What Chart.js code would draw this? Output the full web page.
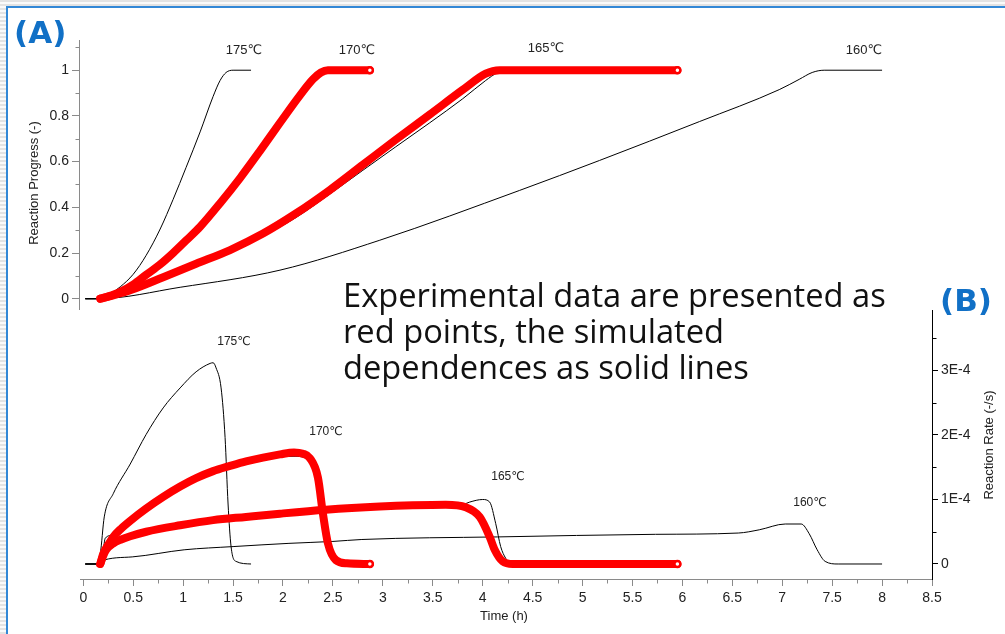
<!DOCTYPE html>
<html><head><meta charset="utf-8">
<script src="https://cdn.jsdelivr.net/npm/chart.js@4.4.1/dist/chart.umd.min.js"></script>
<style>
html,body{margin:0;padding:0;width:1005px;height:634px;overflow:hidden;}
body{background:repeating-linear-gradient(to bottom,#e3e3e3 0px,#e3e3e3 2px,#fafafa 2px,#fafafa 4px);position:relative;}
#frame{position:absolute;left:6px;top:6px;width:1010px;height:640px;background:#fff;border-left:2px solid #3388d6;border-top:2px solid #3388d6;}
#c{position:absolute;left:0;top:0;}
</style></head><body><div id="frame"></div><canvas id="c" width="1005" height="634"></canvas>
<script>
// ---------- Panel A: reaction progress (-) vs time (h) ----------
const tSim175A = [0.02, 0.12, 0.17, 0.27, 0.37, 0.50, 0.63, 0.77, 0.90, 1.03, 1.17, 1.30, 1.37, 1.43, 1.50, 1.68];
const pSim175A = [0, 0, 0.005, 0.022, 0.052, 0.107, 0.19, 0.305, 0.435, 0.575, 0.73, 0.885, 0.955, 0.99, 1, 1];

const tSim170A = [0.02, 0.15, 0.25, 0.37, 0.63, 0.90, 1.17, 1.57, 1.97, 2.30, 2.43, 2.87];
const pSim170A = [0, 0, 0.012, 0.03, 0.105, 0.20, 0.315, 0.528, 0.77, 0.96, 1, 1];
const tExp170A = [0.17, 0.25, 0.37, 0.50, 0.63, 0.77, 0.90, 1.03, 1.17, 1.37, 1.57, 1.77, 1.97, 2.17, 2.30, 2.38, 2.45, 2.60, 2.87];
const pExp170A = [0, 0.01, 0.03, 0.062, 0.105, 0.15, 0.20, 0.255, 0.315, 0.418, 0.528, 0.647, 0.77, 0.89, 0.96, 0.99, 1, 1, 1];

const tSim165A = [0.02, 0.15, 0.30, 0.47, 0.80, 1.13, 1.47, 1.80, 2.13, 2.47, 2.80, 3.13, 3.47, 3.80, 4.03, 4.15, 4.22, 5.95];
const pSim165A = [0, 0, 0.018, 0.038, 0.094, 0.150, 0.205, 0.274, 0.355, 0.458, 0.562, 0.665, 0.77, 0.875, 0.955, 0.99, 1, 1];
const tExp165A = [0.17, 0.30, 0.47, 0.80, 1.13, 1.47, 1.80, 2.13, 2.47, 2.80, 3.13, 3.47, 3.80, 4.03, 4.17, 4.50, 5.95];
const pExp165A = [0, 0.015, 0.037, 0.094, 0.153, 0.213, 0.285, 0.373, 0.476, 0.586, 0.696, 0.806, 0.914, 0.985, 1, 1, 1];

const tSim160A = [0.02, 0.15, 0.97, 1.97, 2.97, 4.37, 5.17, 6.17, 6.97, 7.17, 7.30, 7.42, 8.0];
const pSim160A = [0, 0, 0.05, 0.125, 0.256, 0.474, 0.605, 0.775, 0.915, 0.96, 0.99, 1, 1];

// ---------- Panel B: reaction rate (x1E-4 /s) vs time (h) ----------
const tSim175B = [0.02, 0.12, 0.17, 0.21, 0.30, 0.47, 0.63, 0.80, 0.97, 1.13, 1.27, 1.30, 1.33, 1.38, 1.42, 1.45, 1.48, 1.53, 1.68];
const rSim175B = [0, 0, 0.16, 0.73, 1.09, 1.55, 2.01, 2.42, 2.73, 2.98, 3.11, 3.12, 3.04, 2.73, 1.96, 0.93, 0.27, 0.04, 0];

const tSim170B = [0.02, 0.15, 0.19, 0.22, 0.30, 0.47, 0.80, 1.30, 1.63, 1.97, 2.11, 2.27, 2.35, 2.40, 2.45, 2.53, 2.64, 2.87];
const rSim170B = [0, 0, 0.10, 0.40, 0.45, 0.66, 1.03, 1.43, 1.57, 1.66, 1.67, 1.60, 1.32, 0.78, 0.32, 0.06, 0.01, 0];
const tExp170B = [0.17, 0.20, 0.25, 0.30, 0.38, 0.47, 0.63, 0.80, 0.97, 1.13, 1.30, 1.47, 1.63, 1.80, 1.97, 2.11, 2.20, 2.27, 2.35, 2.40, 2.45, 2.53, 2.64, 2.87];
const rExp170B = [0, 0.16, 0.30, 0.42, 0.55, 0.67, 0.86, 1.04, 1.20, 1.33, 1.44, 1.52, 1.59, 1.65, 1.70, 1.73, 1.71, 1.64, 1.34, 0.78, 0.32, 0.06, 0.01, 0];

const tSim165B = [0.02, 0.15, 0.19, 0.23, 0.30, 0.47, 0.63, 0.97, 1.30, 1.63, 1.97, 2.43, 2.97, 3.30, 3.63, 3.80, 3.87, 4.00, 4.07, 4.13, 4.18, 4.23, 4.28, 5.95];
const rSim165B = [0, 0, 0.10, 0.25, 0.30, 0.40, 0.48, 0.58, 0.66, 0.71, 0.76, 0.82, 0.87, 0.89, 0.90, 0.92, 0.96, 1.00, 0.96, 0.63, 0.27, 0.09, 0, 0];
const tExp165B = [0.17, 0.20, 0.23, 0.30, 0.38, 0.47, 0.63, 0.97, 1.30, 1.63, 1.97, 2.43, 2.97, 3.30, 3.63, 3.83, 3.97, 4.07, 4.12, 4.20, 4.30, 5.95];
const rExp165B = [0, 0.13, 0.22, 0.32, 0.38, 0.43, 0.50, 0.60, 0.68, 0.73, 0.78, 0.84, 0.89, 0.91, 0.92, 0.88, 0.73, 0.42, 0.22, 0.04, 0, 0];

const tSim160B = [0.02, 0.15, 0.17, 0.49, 1.01, 1.50, 2.06, 2.50, 2.79, 4.15, 5.73, 6.56, 6.77, 7.03, 7.19, 7.27, 7.35, 7.43, 7.56, 8.0];
const rSim160B = [0, 0, 0.04, 0.11, 0.22, 0.27, 0.32, 0.35, 0.38, 0.42, 0.46, 0.48, 0.53, 0.62, 0.62, 0.47, 0.22, 0.04, 0, 0];

// ---------- ticks & labels ----------
const xTicks = [0,0.25,0.5,0.75,1,1.25,1.5,1.75,2,2.25,2.5,2.75,3,3.25,3.5,3.75,4,4.25,4.5,4.75,5,5.25,5.5,5.75,6,6.25,6.5,6.75,7,7.25,7.5,7.75,8,8.25,8.5];
const yATicks = [0,0.1,0.2,0.3,0.4,0.5,0.6,0.7,0.8,0.9,1,1.1];
const yBTicks = [0,0.5,1,1.5,2,2.5,3,3.5];
const tempLabelsA = ['175℃','170℃','165℃','160℃'];
const tempLabelsB = ['175℃','170℃','165℃','160℃'];
const noteLines = ['Experimental data are presented as','red points, the simulated','dependences as solid lines'];

const GRAY = '#8a8a8a', TXT = '#222';
const isMajor = (v, step) => Math.abs(v/step - Math.round(v/step)) < 1e-6;
const pts = (ts, vs) => ts.map((t,i) => ({x:t, y:vs[i]}));

function red(ts, vs, axis){
  const n = ts.length;
  return {data: pts(ts,vs), yAxisID: axis, borderColor:'#ff0000', borderWidth:8,
    borderCapStyle:'round', borderJoinStyle:'round', cubicInterpolationMode:'monotone',
    pointRadius: c => c.dataIndex === n-1 ? 3 : 0, pointBackgroundColor:'#fff',
    pointBorderColor:'#ff0000', pointBorderWidth:2.5, order:0};
}
function black(ts, vs, axis){
  return {data: pts(ts,vs), yAxisID: axis, borderColor:'#000', borderWidth:1,
    cubicInterpolationMode:'monotone', pointRadius:0, order:1};
}

const datasets = [
  red(tExp170A, pExp170A, 'yA'), red(tExp165A, pExp165A, 'yA'),
  red(tExp170B, rExp170B, 'yB'), red(tExp165B, rExp165B, 'yB'),
  black(tSim175A, pSim175A, 'yA'), black(tSim170A, pSim170A, 'yA'),
  black(tSim165A, pSim165A, 'yA'), black(tSim160A, pSim160A, 'yA'),
  black(tSim175B, rSim175B, 'yB'), black(tSim170B, rSim170B, 'yB'),
  black(tSim165B, rSim165B, 'yB'), black(tSim160B, rSim160B, 'yB')
];

const tickFont = {family:"'Liberation Sans','DejaVu Sans',sans-serif", size:14};

const deco = {
  id:'deco',
  afterDraw(chart){
    const ctx = chart.ctx, a = chart.chartArea;
    const xs = chart.scales.x, ya = chart.scales.yA, yb = chart.scales.yB;
    ctx.save();
    ctx.lineWidth = 1;
    const seg = (x1,y1,x2,y2,col) => { ctx.strokeStyle = col; ctx.beginPath(); ctx.moveTo(x1,y1); ctx.lineTo(x2,y2); ctx.stroke(); };
    const xb = Math.round(a.bottom) + 0.5, xl = Math.round(a.left) - 0.5, xr = Math.round(a.right) + 0.5;
    seg(a.left, xb, a.right, xb, GRAY);
    seg(xl, 40, xl, 310, GRAY);
    seg(xr, 310, xr, a.bottom + 1, '#000');
    xTicks.forEach(v => { if (!isMajor(v,0.5)) { const px = Math.round(xs.getPixelForValue(v)) + 0.5; seg(px, xb, px, xb + 4, GRAY); } });
    yATicks.forEach(v => { if (!isMajor(v,0.2)) { const py = Math.round(ya.getPixelForValue(v)) + 0.5; seg(xl - 4, py, xl, py, GRAY); } });
    yBTicks.forEach(v => { if (!isMajor(v,1)) { const py = Math.round(yb.getPixelForValue(v)) + 0.5; seg(xr, py, xr + 4, py, '#000'); } });
    ctx.fillStyle = TXT;
    ctx.font = "13px 'Liberation Sans','DejaVu Sans',sans-serif";
    ctx.textAlign = 'center'; ctx.textBaseline = 'middle';
    ctx.save(); ctx.translate(34, 183); ctx.rotate(-Math.PI/2); ctx.fillText('Reaction Progress (-)', 0, 0); ctx.restore();
    ctx.save(); ctx.translate(989, 445); ctx.rotate(-Math.PI/2); ctx.fillText('Reaction Rate (-/s)', 0, 0); ctx.restore();
    ctx.fillText('Time (h)', 504, 616);
    ctx.font = "13px 'Liberation Sans','DejaVu Sans',sans-serif";
    const posA = [[244,50],[357,50],[546,48],[864,50]];
    tempLabelsA.forEach((s,i) => ctx.fillText(s, posA[i][0], posA[i][1]));
    ctx.font = "12px 'Liberation Sans','DejaVu Sans',sans-serif";
    const posB = [[234,342],[326,432],[508,477],[810,503]];
    tempLabelsB.forEach((s,i) => ctx.fillText(s, posB[i][0], posB[i][1]));
    ctx.textAlign = 'left'; ctx.textBaseline = 'alphabetic';
    ctx.font = "30px 'Open Sans'";
    const w = ctx.measureText(noteLines[0]).width;
    const fs = 30 * 543 / w;
    ctx.font = fs.toFixed(2) + "px 'Open Sans'";
    ctx.fillStyle = '#111';
    noteLines.forEach((s,i) => ctx.fillText(s, 343, 307 + 36*i));
    ctx.fillStyle = '#1170c6';
    ctx.font = "bold 31px 'DejaVu Sans'";
    ctx.fillText('(A)', 14, 43);
    ctx.fillText('(B)', 940, 311);
    ctx.restore();
  }
};

new Chart(document.getElementById('c'), {
  type:'line',
  data:{datasets},
  plugins:[deco],
  options:{
    responsive:false, animation:false, devicePixelRatio:1,
    layout:{padding:{top:40,left:0,right:0,bottom:0}},
    plugins:{legend:{display:false}, tooltip:{enabled:false}},
    scales:{
      x:{type:'linear', min:-0.033, max:8.5,
        afterBuildTicks: s => { s.ticks = xTicks.map(v => ({value:v})); },
        afterFit: s => { s.height = 55; },
        border:{display:false},
        grid:{drawOnChartArea:false, tickLength:7, tickColor: c => isMajor(c.tick.value,0.5) ? GRAY : 'rgba(0,0,0,0)'},
        ticks:{autoSkip:false, maxRotation:0, padding:4, color:TXT, font:tickFont,
          callback: v => isMajor(v,0.5) ? String(Math.round(v*10)/10) : ''}},
      yA:{type:'linear', position:'left', min:-1.2267, max:1.1322,
        afterBuildTicks: s => { s.ticks = yATicks.map(v => ({value:v})); },
        afterFit: s => { s.width = 80; },
        border:{display:false},
        grid:{drawOnChartArea:false, tickLength:8, tickColor: c => isMajor(c.tick.value,0.2) ? GRAY : 'rgba(0,0,0,0)'},
        ticks:{autoSkip:false, padding:3, color:TXT, font:tickFont,
          callback: v => isMajor(v,0.2) ? String(Math.round(v*10)/10) : ''}},
      yB:{type:'linear', position:'right', min:-0.2326, max:8.124,
        afterBuildTicks: s => { s.ticks = yBTicks.map(v => ({value:v})); },
        afterFit: s => { s.width = 73; },
        border:{display:false},
        grid:{drawOnChartArea:false, tickLength:6, tickColor: c => isMajor(c.tick.value,1) ? '#000' : 'rgba(0,0,0,0)'},
        ticks:{autoSkip:false, padding:3, color:TXT, font:tickFont,
          callback: v => isMajor(v,1) ? (v === 0 ? '0' : Math.round(v) + 'E-4') : ''}}
    }
  }
});
</script></body></html>
